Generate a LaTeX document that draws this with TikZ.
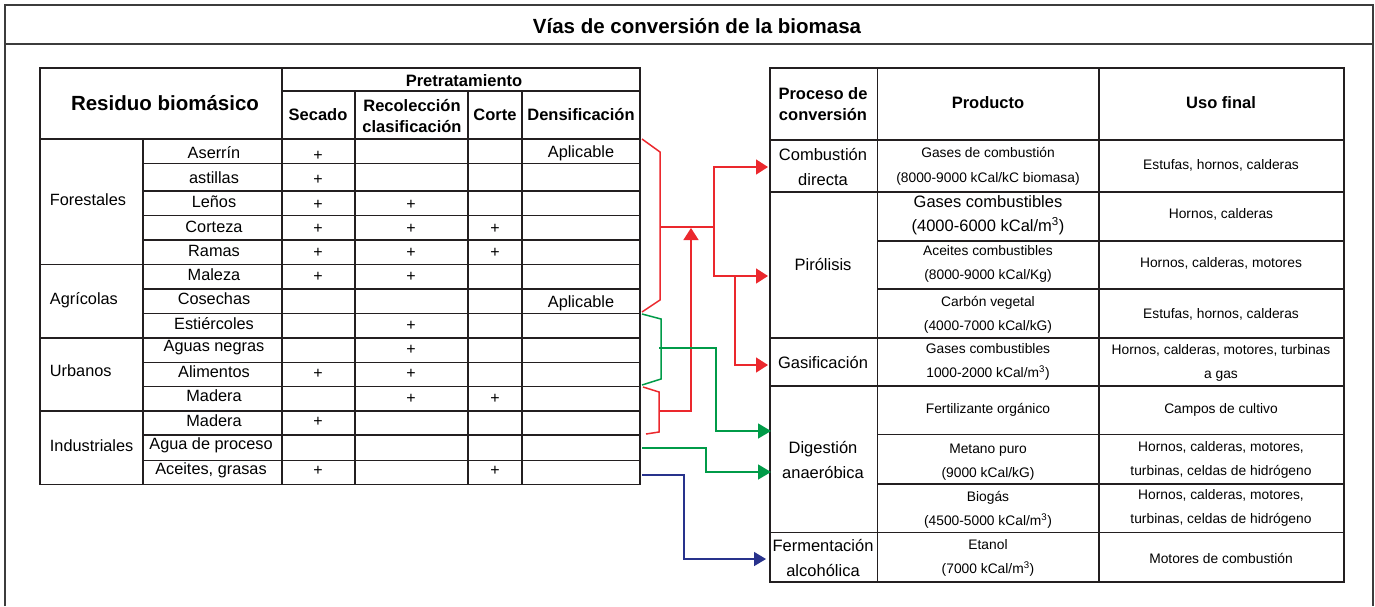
\documentclass[tikz,border=0pt]{standalone}
\usepackage{fontspec}
\setmainfont{Liberation Sans}
\usetikzlibrary{arrows.meta}

\begin{document}
\begin{tikzpicture}[x=1pt,y=1pt,yscale=-1,
  frame/.style={draw={rgb, 255:red, 60; green, 60; blue, 60 }, line width=1.4},
  rule/.style={draw={rgb, 255:red, 35; green, 31; blue, 32 }, line width=1.7},
  title/.style={inner sep=0.75pt, font=\fontsize{20.5}{22}\selectfont\bfseries},
  bighdr/.style={inner sep=0.75pt, font=\fontsize{20.5}{22}\selectfont\bfseries},
  hdr/.style={inner sep=0.75pt, align=center, font=\fontsize{16.5}{21}\selectfont\bfseries},
  cell/.style={inner sep=0.75pt, align=center, font=\fontsize{16.3}{24.5}\selectfont},
  small/.style={inner sep=0.75pt, align=center, font=\fontsize{13.8}{24.5}\selectfont},
  plusmark/.style={inner sep=0.75pt, font=\fontsize{16}{18}\selectfont},
  redline/.style={draw={rgb, 255:red, 235; green, 40; blue, 45 }, line width=1.5},
  redarrow/.style={redline, -{Triangle[length=12pt,width=15pt]}},
  greenline/.style={draw={rgb, 255:red, 0; green, 155; blue, 72 }, line width=1.5},
  greenarrow/.style={greenline, -{Triangle[length=13pt,width=15pt]}},
  bluearrow/.style={draw={rgb, 255:red, 40; green, 50; blue, 140 }, line width=1.5, -{Triangle[length=12pt,width=14pt]}}
]
\useasboundingbox (0,0) rectangle (1375,606);

%Shape: Frame
\draw [frame] (5,606) -- (5,5) -- (1373,5) -- (1373,606) ;
\draw [frame] (5,44) -- (1373,44) ;
% Text Node
\node [title] (title) at (697,26) {Vías de conversión de la biomasa};

%Shape: Left table
\draw [rule] (40,68) rectangle (640,484.5) ;
\draw [rule] (282,68) -- (282,484.5) ;
\draw [rule] (355,91) -- (355,484.5) ;
\draw [rule] (468,91) -- (468,484.5) ;
\draw [rule] (522,91) -- (522,484.5) ;
\draw [rule] (143,139) -- (143,484.5) ;
\draw [rule] (282,91) -- (640,91) ;
\draw [rule] (40,139) -- (640,139) ;
\draw [rule] (143,163.5) -- (640,163.5) ;
\draw [rule] (143,191) -- (640,191) ;
\draw [rule] (143,215.5) -- (640,215.5) ;
\draw [rule] (143,240) -- (640,240) ;
\draw [rule] (40,264.5) -- (640,264.5) ;
\draw [rule] (143,289) -- (640,289) ;
\draw [rule] (143,313.5) -- (640,313.5) ;
\draw [rule] (40,338) -- (640,338) ;
\draw [rule] (143,362.5) -- (640,362.5) ;
\draw [rule] (143,386.5) -- (640,386.5) ;
\draw [rule] (40,411) -- (640,411) ;
\draw [rule] (143,435) -- (640,435) ;
\draw [rule] (143,460.5) -- (640,460.5) ;

%Shape: Right table
\draw [rule] (770,68) rectangle (1344,582) ;
\draw [rule] (877.5,68) -- (877.5,582) ;
\draw [rule] (1099,68) -- (1099,582) ;
\draw [rule] (770,140) -- (1344,140) ;
\draw [rule] (770,192) -- (1344,192) ;
\draw [rule] (877.5,241) -- (1344,241) ;
\draw [rule] (877.5,289) -- (1344,289) ;
\draw [rule] (770,338) -- (1344,338) ;
\draw [rule] (770,386) -- (1344,386) ;
\draw [rule] (877.5,434.5) -- (1344,434.5) ;
\draw [rule] (877.5,484) -- (1344,484) ;
\draw [rule] (770,532.5) -- (1344,532.5) ;

% Text Node
\node [bighdr] (residuo) at (165,103) {Residuo biomásico};
\node [hdr] (pretrat) at (464,81) {Pretratamiento};
\node [hdr] (secado) at (318,115) {Secado};
\node [hdr] (recol) at (412,116) {Recolección\\clasificación};
\node [hdr] (corte) at (495,115) {Corte};
\node [hdr] (densif) at (581,115) {Densificación};

% Text Node
\node [cell, anchor=west] (forest) at (49,200) {Forestales};
\node [cell, anchor=west] (agric) at (49,300) {Agrícolas};
\node [cell, anchor=west] (urban) at (49,371) {Urbanos};
\node [cell, anchor=west] (indus) at (49,446) {Industriales};

% Text Node
\node [cell] (aserrin) at (214,153) {Aserrín};
\node [cell] (astillas) at (214,178) {astillas};
\node [cell] (lenos) at (214,202) {Leños};
\node [cell] (corteza) at (214,227) {Corteza};
\node [cell] (ramas) at (214,251) {Ramas};
\node [cell] (maleza) at (214,275) {Maleza};
\node [cell] (cosechas) at (214,299) {Cosechas};
\node [cell] (estierc) at (214,324) {Estiércoles};
\node [cell] (aguasneg) at (214,348) {Aguas negras};
\node [cell] (alimentos) at (214,372) {Alimentos};
\node [cell] (maderaU) at (214,396) {Madera};
\node [cell] (maderaI) at (214,421) {Madera};
\node [cell] (aguaproc) at (211,445) {Agua de proceso};
\node [cell] (aceites) at (211,470) {Aceites, grasas};

% Text Node
\node [plusmark] (aserS) at (318,156) {+};
\node [plusmark] (astiS) at (318,180) {+};
\node [plusmark] (lenoS) at (318,205) {+};
\node [plusmark] (lenoR) at (411,205) {+};
\node [plusmark] (cortS) at (318,229) {+};
\node [plusmark] (cortR) at (411,229) {+};
\node [plusmark] (cortC) at (495,229) {+};
\node [plusmark] (ramaS) at (318,253) {+};
\node [plusmark] (ramaR) at (411,253) {+};
\node [plusmark] (ramaC) at (495,253) {+};
\node [plusmark] (maleS) at (318,277) {+};
\node [plusmark] (maleR) at (411,277) {+};
\node [plusmark] (estiR) at (411,326) {+};
\node [plusmark] (aguaR) at (411,350) {+};
\node [plusmark] (alimS) at (318,374) {+};
\node [plusmark] (alimR) at (411,374) {+};
\node [plusmark] (madUR) at (411,399) {+};
\node [plusmark] (madUC) at (495,399) {+};
\node [plusmark] (madIS) at (318,422) {+};
\node [plusmark] (aceiS) at (318,471) {+};
\node [plusmark] (aceiC) at (495,471) {+};
\node [cell] (aplicA) at (581,153) {Aplicable};
\node [cell] (aplicC) at (581,303) {Aplicable};

% Text Node
\node [hdr] (proceso) at (823,104) {Proceso de\\conversión};
\node [hdr] (producto) at (988,103) {Producto};
\node [hdr] (uso) at (1221,103) {Uso final};

% Text Node
\node [cell, font=\fontsize{16.5}{24.5}\selectfont] (combus) at (823,167) {Combustión\\directa};
\node [cell, font=\fontsize{16.5}{24.5}\selectfont] (pirol) at (823,264) {Pirólisis};
\node [cell, font=\fontsize{16.5}{24.5}\selectfont] (gasif) at (823,362) {Gasificación};
\node [cell, font=\fontsize{16.5}{24.5}\selectfont] (digest) at (823,460) {Digestión\\anaeróbica};
\node [cell, font=\fontsize{16.5}{24.5}\selectfont] (ferment) at (823,558) {Fermentación\\alcohólica};

% Text Node
\node [small] (gasescomb) at (988,166.5) {Gases de combustión\\(8000-9000 kCal/kC biomasa)};
\node [cell, font=\fontsize{16.5}{24}\selectfont] (gasespir) at (988,215) {Gases combustibles\\(4000-6000 kCal/m\textsuperscript{3})};
\node [small] (aceitespir) at (988,264) {Aceites combustibles\\(8000-9000 kCal/Kg)};
\node [small] (carbon) at (988,315) {Carbón vegetal\\(4000-7000 kCal/kG)};
\node [small] (gasesgas) at (988,362) {Gases combustibles\\1000-2000 kCal/m\textsuperscript{3})};
\node [small] (fertil) at (988,410) {Fertilizante orgánico};
\node [small] (metano) at (988,462) {Metano puro\\(9000 kCal/kG)};
\node [small] (biogas) at (988,510) {Biogás\\(4500-5000 kCal/m\textsuperscript{3})};
\node [small] (etanol) at (988,558) {Etanol\\(7000 kCal/m\textsuperscript{3})};

% Text Node
\node [small] (usoA) at (1221,165) {Estufas, hornos, calderas};
\node [small] (usoB) at (1221,214) {Hornos, calderas};
\node [small] (usoC) at (1221,263) {Hornos, calderas, motores};
\node [small] (usoD) at (1221,314) {Estufas, hornos, calderas};
\node [small] (usoE) at (1221,363) {Hornos, calderas, motores, turbinas\\a gas};
\node [small] (usoF) at (1221,410) {Campos de cultivo};
\node [small] (usoG) at (1221,460) {Hornos, calderas, motores,\\turbinas, celdas de hidrógeno};
\node [small] (usoH) at (1221,508) {Hornos, calderas, motores,\\turbinas, celdas de hidrógeno};
\node [small] (usoI) at (1221,558) {Motores de combustión};

%Connector ends
\coordinate (forTop) at (642,139);
\coordinate (forBot) at (642,312);
\coordinate (forMid) at (660,227);
\coordinate (hubR) at (714,227);
\coordinate (splitG) at (735,276);
\coordinate (madTop) at (643,387);
\coordinate (madBot) at (646,434);
\coordinate (madMid) at (659,411);
\coordinate (upTip) at (691,228);
\coordinate (estTop) at (642,314);
\coordinate (estBot) at (642,385);
\coordinate (estMid) at (659,348);
\coordinate (aguaOut) at (642,448);
\coordinate (aceiOut) at (642,475);
\coordinate (toComb) at (768,167);
\coordinate (toPiro) at (768,276);
\coordinate (toGasi) at (768,365);
\coordinate (toDigA) at (771,431);
\coordinate (toDigB) at (771,472);
\coordinate (toFerm) at (766,559);

%Straight Lines: red
\draw [redline] (forTop) -- (660,152) -- (660,300) -- (forBot) ;
\draw [redline] (forMid) -- (hubR) ;
\draw [redarrow] (hubR) |- (toComb) ;
\draw [redarrow] (hubR) |- (toPiro) ;
\draw [redarrow] (splitG) |- (toGasi) ;
\draw [redline] (madTop) -- (659,392) -- (659,432) -- (madBot) ;
\draw [redarrow] (madMid) -| (upTip) ;
%Straight Lines: green
\draw [greenline] (estTop) -- (661,319) -- (661,379) -- (estBot) ;
\draw [greenarrow] (estMid) -- (716,348) |- (toDigA) ;
\draw [greenarrow] (aguaOut) -- (706,448) |- (toDigB) ;
%Straight Lines: blue
\draw [bluearrow] (aceiOut) -- (684,475) |- (toFerm) ;
\end{tikzpicture}
\end{document}
